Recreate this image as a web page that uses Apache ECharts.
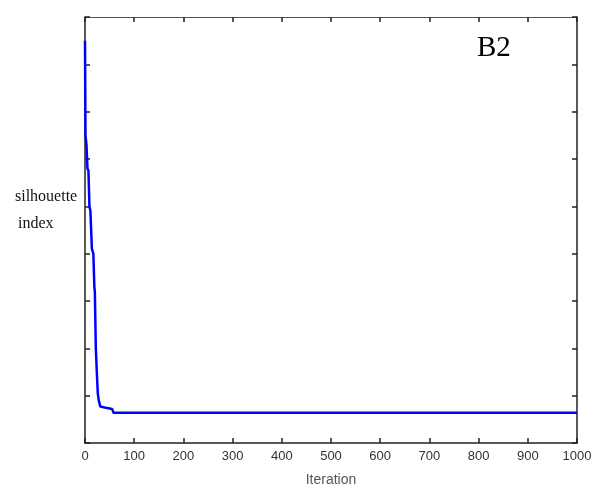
<!DOCTYPE html>
<html>
<head>
<meta charset="utf-8">
<script src="https://cdn.jsdelivr.net/npm/echarts@6/dist/echarts.min.js"></script>
<style>
  html, body { margin: 0; padding: 0; background: #fff; }
  #chart { width: 591px; height: 486px; }
</style>
</head>
<body>
<div id="chart"></div>
<script>
// iteration vs silhouette index (y units are arbitrary, axis has no labels)
var iterations = [0, 1, 3, 5, 7, 9, 11, 14, 17, 19, 20, 22, 24, 26, 28, 31, 40, 55, 58, 1000];
var silhouette = [8.5, 6.5, 6.3, 5.8, 5.75, 5.0, 4.9, 4.1, 4.0, 3.3, 3.2, 2.0, 1.5, 1.05, 0.9, 0.77, 0.75, 0.72, 0.64, 0.64];
var xTicks = [0, 100, 200, 300, 400, 500, 600, 700, 800, 900, 1000];

var points = iterations.map(function (it, i) { return [it, silhouette[i]]; });

var tickIn = { show: true, inside: true, length: 5, lineStyle: { color: '#222', width: 1.5 } };

var option = {
    backgroundColor: '#fff',
    animation: false,
    grid: { left: 85, right: 14, top: 17, bottom: 43, outerBoundsMode: 'none', containLabel: false },
    xAxis: [{
        type: 'value',
        min: 0,
        max: 1000,
        interval: 100,
        axisLine: { show: true, onZero: false, lineStyle: { color: '#222', width: 1.5 } },
        axisTick: tickIn,
        splitLine: { show: false },
        axisLabel: {
            color: '#333',
            fontFamily: 'Liberation Sans, sans-serif',
            fontSize: 13,
            margin: 7,
            formatter: function (v) { return xTicks.indexOf(v) >= 0 ? String(v) : ''; }
        },
        name: 'Iteration',
        nameLocation: 'middle',
        nameGap: 30,
        nameTextStyle: { color: '#555', fontFamily: 'Liberation Sans, sans-serif', fontSize: 14 }
    }, {
        type: 'value',
        position: 'top',
        min: 0,
        max: 1000,
        interval: 100,
        axisLine: { show: true, onZero: false, lineStyle: { color: '#555', width: 1.2 } },
        axisTick: tickIn,
        axisLabel: { show: false },
        splitLine: { show: false }
    }],
    yAxis: [{
        type: 'value',
        min: 0,
        max: 9,
        interval: 1,
        axisLine: { show: true, onZero: false, lineStyle: { color: '#222', width: 1.5 } },
        axisTick: tickIn,
        axisLabel: { show: false },
        splitLine: { show: false }
    }, {
        type: 'value',
        position: 'right',
        min: 0,
        max: 9,
        interval: 1,
        axisLine: { show: true, onZero: false, lineStyle: { color: '#222', width: 1.5 } },
        axisTick: tickIn,
        axisLabel: { show: false },
        splitLine: { show: false }
    }],
    graphic: [{
        type: 'text',
        left: 15,
        top: 189,
        style: { text: 'silhouette', fontFamily: 'Liberation Serif, serif', fontSize: 16, fill: '#111' }
    }, {
        type: 'text',
        left: 18,
        top: 216,
        style: { text: 'index', fontFamily: 'Liberation Serif, serif', fontSize: 16, fill: '#111' }
    }, {
        type: 'text',
        left: 477,
        top: 34,
        style: { text: 'B2', fontFamily: 'Liberation Serif, serif', fontSize: 29, fill: '#000' }
    }],
    series: [{
        type: 'line',
        data: points,
        showSymbol: false,
        lineStyle: { color: '#0000ff', width: 2.5 },
        itemStyle: { color: '#0000ff' }
    }]
};

var chart = echarts.init(document.getElementById('chart'));
chart.setOption(option);
</script>
</body>
</html>
